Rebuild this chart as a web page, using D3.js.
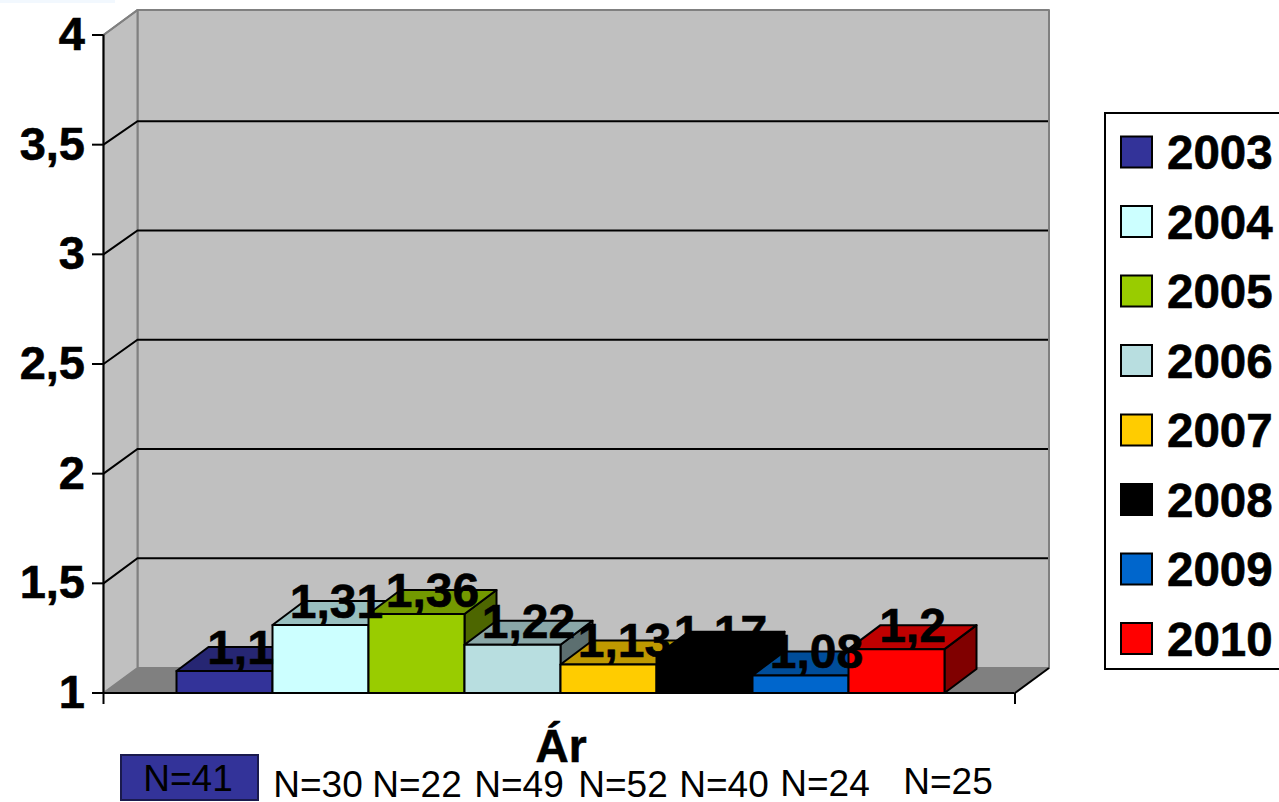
<!DOCTYPE html>
<html><head><meta charset="utf-8">
<script src="https://cdn.jsdelivr.net/npm/d3@7"></script>
<style>html,body{margin:0;padding:0;background:#fff;overflow:hidden}svg{display:block;font-family:"Liberation Sans",Arial,sans-serif}</style>
</head><body><svg id="c" width="1279" height="802"></svg>
<script>
const years = ["2003","2004","2005","2006","2007","2008","2009","2010"];
const values = [1.1,1.31,1.36,1.22,1.13,1.17,1.08,1.2];
const valueLabels = ["1,1","1,31","1,36","1,22","1,13","1,17","1,08","1,2"];
const colors = ["#333399","#CCFFFF","#99CC00","#B8DEE0","#FFCC00","#000000","#0066CC","#FF0000"];
const yTicks = [1,1.5,2,2.5,3,3.5,4];
const sampleSizes = ["N=41","N=30","N=22","N=49","N=52","N=40","N=24","N=25"];
const categoryName = "Ár";

const svg = d3.select("#c");
const dx = 34, dy = -25, bdx = 32, bdy = -24;
const y = d3.scaleLinear().domain([1,4]).range([693,35]);
const yBack = d3.scaleLinear().domain([1,4]).range([667.5,12]);
const x = d3.scaleBand().domain(years).range([176.5,944.5]).padding(0);
const frontL = 103.5, frontR = 1015;
const poly = (pts, fill, stroke, sw) => svg.append("polygon").attr("points", pts.map(p=>p.join(",")).join(" "))
  .attr("fill",fill).attr("stroke",stroke).attr("stroke-width",sw).attr("stroke-linejoin","round");
const shade = (c,k) => { const r=d3.rgb(c); return d3.rgb(r.r*k,r.g*k,r.b*k).formatHex(); };

svg.append("rect").attr("x",0).attr("y",0).attr("width",115).attr("height",3).attr("fill","#f2f8fe");

// walls and floor
const y0=y(1), yT=y(4);
poly([[frontL+dx,yT+dy],[frontR+dx,yT+dy],[frontR+dx,y0+dy],[frontL+dx,y0+dy]],"#C0C0C0","#808080",2);
poly([[frontL,yT],[frontL+dx,yT+dy],[frontL+dx,y0+dy],[frontL,y0]],"#C0C0C0","#808080",2);
poly([[frontL,y0],[frontL+dx,y0+dy],[frontR+dx,y0+dy],[frontR,y0]],"#808080","none",0);
yTicks.slice(1,-1).forEach(t=>{
  svg.append("path").attr("d",`M${frontL},${y(t)}L${frontL+dx},${yBack(t)}L${frontR+dx-1},${yBack(t)}`).attr("fill","none").attr("stroke","#000").attr("stroke-width",2);
});
svg.append("line").attr("x1",frontR).attr("y1",y0).attr("x2",frontR+dx).attr("y2",y0+dy).attr("stroke","#000").attr("stroke-width",2);
svg.append("line").attr("x1",frontL).attr("y1",yT).attr("x2",frontL+dx).attr("y2",yT+dy).attr("stroke","#808080").attr("stroke-width",2);

// bars
years.forEach((yr,i)=>{
  const l=x(yr), r=l+x.bandwidth(), t=y(values[i]), c=colors[i];
  poly([[r,t],[r+bdx,t+bdy],[r+bdx,y0+bdy],[r,y0]],shade(c,.5),"#000",2);
  poly([[l,t],[l+bdx,t+bdy],[r+bdx,t+bdy],[r,t]],shade(c,.75),"#000",2);
  poly([[l,t],[r,t],[r,y0],[l,y0]],c,"#000",2);
});

// axes
const axisY = d3.axisLeft(y).tickValues(yTicks).tickSize(11).tickPadding(7).tickFormat(d=>String(d).replace(".",","));
const gy = svg.append("g").attr("transform",`translate(${frontL-.5},-.5)`).call(axisY);
gy.select(".domain").attr("d",`M.5,${yT}V${y0}`).attr("stroke","#000").attr("stroke-width",2);
gy.selectAll("line").attr("stroke","#000").attr("stroke-width",2);
gy.selectAll("text").attr("font-size",47).attr("font-weight","bold").attr("fill","#000").attr("stroke","#000").attr("stroke-width",.6).attr("font-family","'Liberation Sans',Arial,sans-serif");
const gx = svg.append("g").attr("transform",`translate(-.5,${y0})`)
  .call(d3.axisBottom(d3.scaleLinear().domain([0,1]).range([frontL,frontR])).tickValues([0,1]).tickSize(11).tickFormat(""));
gx.select(".domain").attr("d",`M${frontL},0H${frontR}`).attr("stroke","#000").attr("stroke-width",2);
gx.selectAll("line").attr("stroke","#000").attr("stroke-width",2);

// value labels
years.forEach((yr,i)=>{
  svg.append("text").attr("x",x(yr)+x.bandwidth()/2+16).attr("y",y(values[i])-7)
    .attr("text-anchor","middle").attr("font-size",48).attr("font-weight","bold").attr("fill","#000").attr("stroke","#000").attr("stroke-width",.6).text(valueLabels[i]);
});

// category label
svg.append("text").attr("x",561).attr("y",762).attr("text-anchor","middle").attr("font-size",46).attr("font-weight","bold").attr("stroke","#000").attr("stroke-width",.6).text(categoryName);

// N annotations
svg.append("rect").attr("x",121).attr("y",755).attr("width",137).attr("height",45).attr("fill",colors[0]).attr("stroke","#1a1a4d").attr("stroke-width",2);
const nX = [188,318,417,519,623,724,825,948];
const nY = [791,797,797,797,797,797,796,794];
sampleSizes.forEach((s,i)=>{
  svg.append("text").attr("x",nX[i]).attr("y",nY[i]).attr("text-anchor","middle").attr("font-size",37).attr("fill","#000").text(s);
});

// legend
svg.append("rect").attr("x",1105).attr("y",113).attr("width",190).attr("height",556).attr("fill","#fff").attr("stroke","#000").attr("stroke-width",2);
const ly = d3.scalePoint().domain(years).range([152,638.5]);
years.forEach((yr,i)=>{
  svg.append("rect").attr("x",1121).attr("y",ly(yr)-15.5).attr("width",31).attr("height",31).attr("fill",colors[i]).attr("stroke","#000").attr("stroke-width",2);
  svg.append("text").attr("x",1167).attr("y",ly(yr)+17).attr("font-size",47.5).attr("font-weight","bold").attr("fill","#000").attr("stroke","#000").attr("stroke-width",.6).text(yr);
});
</script></body></html>
